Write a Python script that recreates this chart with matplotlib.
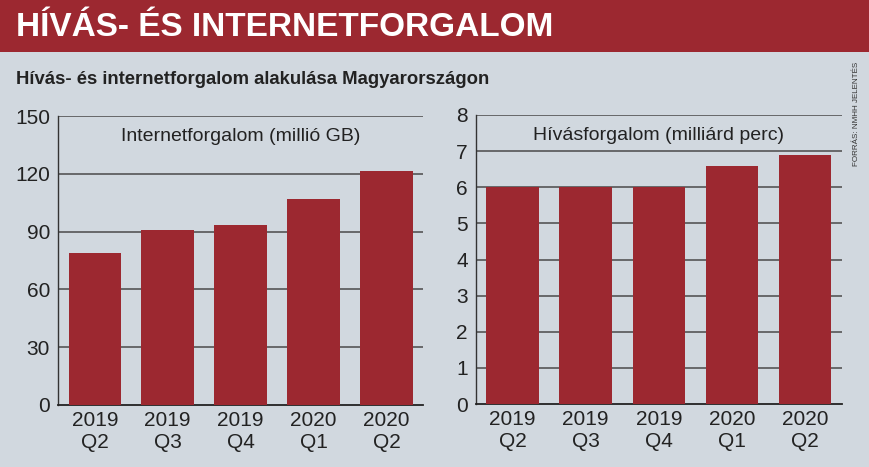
import matplotlib
matplotlib.use("Agg")
import matplotlib.pyplot as plt

# data
quarters = ["2019\nQ2", "2019\nQ3", "2019\nQ4", "2020\nQ1", "2020\nQ2"]
internet_gb = [79.0, 90.7, 93.3, 106.8, 121.4]   # millió GB
calls_min = [6.0, 6.0, 6.0, 6.6, 6.9]            # milliárd perc

internet_ticks = [0, 30, 60, 90, 120, 150]
calls_ticks = [0, 1, 2, 3, 4, 5, 6, 7, 8]

BG = "#d1d8df"
RED = "#9c2830"
GRID = "#555555"

plt.rcParams['font.family'] = ['Liberation Sans', 'DejaVu Sans']

fig = plt.figure(figsize=(8.7, 4.67), dpi=100)
fig.patch.set_facecolor(BG)

# header band
fig.patches.append(plt.Rectangle((0, 1 - 52 / 467), 1, 52 / 467, transform=fig.transFigure,
                                 facecolor=RED, edgecolor="none", zorder=0))
fig.text(16 / 870, 1 - 27 / 467, "HÍVÁS- ÉS INTERNETFORGALOM", color="white",
         fontsize=24, fontweight="bold", va="center", ha="left")
fig.text(16 / 870, 1 - 80 / 467, "Hívás- és internetforgalom alakulása Magyarországon",
         color="#222222", fontsize=13.3, fontweight="bold", va="center", ha="left")
fig.text(857 / 870, 1 - 114 / 467, "FORRÁS: NMHH JELENTÉS", color="#333333",
         fontsize=5.8, rotation=90, va="center", ha="center")


def draw(ax, values, ticks, title):
    ax.set_facecolor(BG)
    x = range(len(values))
    ax.bar(x, values, width=0.72, color=RED, zorder=3)
    ax.set_xlim(-0.5, len(values) - 0.5)
    ax.set_ylim(ticks[0], ticks[-1])
    ax.set_yticks(ticks)
    ax.set_xticks(list(x))
    ax.set_xticklabels(quarters, linespacing=1.25)
    for t in ticks[1:]:
        ax.axhline(t, color=GRID, lw=1.2, zorder=1)
    for s in ["top", "right"]:
        ax.spines[s].set_visible(False)
    ax.spines["left"].set_color("#333333")
    ax.spines["bottom"].set_color("#222222")
    ax.spines["left"].set_linewidth(1.0)
    ax.spines["bottom"].set_linewidth(1.3)
    ax.tick_params(length=0, labelsize=15, colors="#222222", pad=6)
    ax.tick_params(axis="x", pad=4)
    ax.text(0.5, 0.93, title, transform=ax.transAxes, ha="center", va="center",
            fontsize=14, color="#222222")


ax1 = fig.add_axes([58.3 / 870, 1 - 405 / 467, (423 - 58.3) / 870, (405 - 116) / 467])
draw(ax1, internet_gb, internet_ticks, "Internetforgalom (millió GB)")

ax2 = fig.add_axes([476 / 870, 1 - 404 / 467, (841.7 - 476) / 870, (404 - 115) / 467])
draw(ax2, calls_min, calls_ticks, "Hívásforgalom (milliárd perc)")

fig.savefig("out.png", dpi=100, facecolor=BG)
